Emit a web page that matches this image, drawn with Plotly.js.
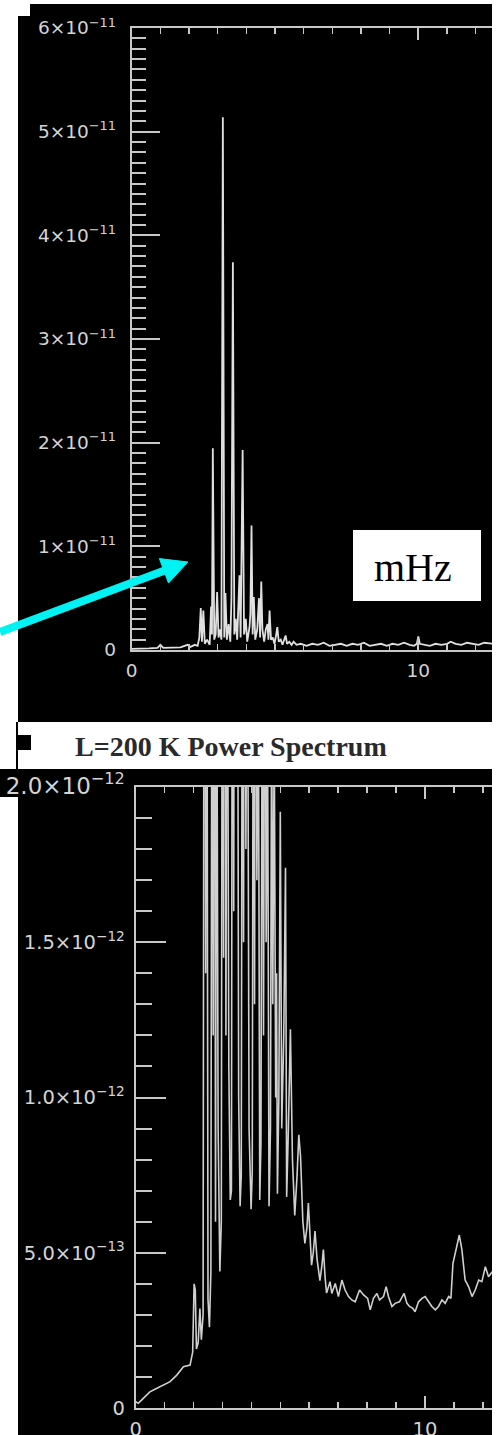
<!DOCTYPE html>
<html>
<head>
<meta charset="utf-8">
<script src="https://cdn.plot.ly/plotly-3.0.1.min.js"></script>
<style>html,body{margin:0;padding:0;background:#fff;}#chart{width:501px;height:1435px;}</style>
</head>
<body>
<div id="chart"></div>
<script>
// ---------- Data ----------
// Upper panel: power spectrum (mHz vs power)
const topFreq = [0.00,0.30,0.60,0.90,1.00,1.10,1.40,1.70,1.95,2.05,2.20,2.30,2.36,2.41,2.45,2.50,2.55,2.63,2.72,2.77,2.80,2.83,2.88,2.93,2.98,3.03,3.08,3.13,3.18,3.23,3.27,3.32,3.38,3.44,3.48,3.53,3.58,3.63,3.68,3.76,3.80,3.87,3.92,3.98,4.03,4.11,4.14,4.18,4.22,4.26,4.31,4.38,4.44,4.48,4.52,4.56,4.62,4.68,4.74,4.77,4.81,4.86,4.92,4.98,5.03,5.08,5.13,5.20,5.26,5.32,5.37,5.42,5.50,5.58,5.65,5.75,5.90,6.10,6.30,6.50,6.70,6.90,7.10,7.30,7.50,7.70,7.90,8.10,8.30,8.50,8.70,8.90,9.10,9.30,9.50,9.70,9.85,9.95,10.00,10.05,10.20,10.40,10.60,10.80,11.00,11.13,11.30,11.50,11.70,11.90,12.10,12.30,12.60];
const topPower = [1.0e-13,1.0e-13,1.5e-13,2.0e-13,5.0e-13,2.0e-13,2.0e-13,2.5e-13,5.0e-13,3.0e-13,5.0e-13,4.0e-13,1.2e-12,4.05e-12,8.0e-13,3.8e-12,6.0e-13,1.0e-12,5.0e-13,4.2e-12,1.5e-12,1.945e-11,1.0e-12,1.5e-12,5.6e-12,1.2e-12,2.0e-12,1.0e-12,5.14e-11,1.2e-12,5.5e-12,1.0e-12,2.5e-12,8.0e-13,5.0e-12,3.74e-11,1.5e-12,3.0e-12,1.0e-12,7.2e-12,1.2e-12,1.93e-11,1.5e-12,3.0e-12,8.0e-13,2.2e-12,3.5e-12,1.2e-11,1.5e-12,5.1e-12,1.0e-12,2.0e-12,5.0e-12,1.2e-12,6.6e-12,2.0e-12,8.0e-13,2.0e-12,2.5e-12,1.0e-12,3.8e-12,1.0e-12,1.2e-12,6.0e-13,1.3e-12,2.2e-12,8.0e-13,1.0e-12,5.0e-13,9.0e-13,1.4e-12,6.0e-13,8.0e-13,5.0e-13,8.0e-13,5.0e-13,6.0e-13,4.0e-13,6.0e-13,5.0e-13,7.0e-13,4.0e-13,5.0e-13,6.0e-13,4.0e-13,6.0e-13,5.0e-13,7.0e-13,4.0e-13,5.0e-13,6.0e-13,4.0e-13,6.0e-13,5.0e-13,7.0e-13,5.0e-13,4.0e-13,6.0e-13,1.3e-12,6.0e-13,5.0e-13,4.0e-13,6.0e-13,5.0e-13,6.0e-13,8.0e-13,6.0e-13,5.0e-13,7.0e-13,6.0e-13,5.0e-13,7.0e-13,6.0e-13];

// Lower panel: "L=200 K Power Spectrum"
const lowFreq = [0.00,0.09,0.21,0.35,0.49,0.70,0.96,1.19,1.42,1.55,1.65,1.88,1.97,2.02,2.06,2.10,2.16,2.22,2.27,2.33,2.38,2.42,2.45,2.50,2.55,2.60,2.64,2.68,2.72,2.76,2.80,2.85,2.91,2.96,3.00,3.04,3.08,3.12,3.16,3.22,3.27,3.31,3.35,3.39,3.43,3.47,3.51,3.56,3.61,3.65,3.69,3.73,3.77,3.81,3.86,3.92,3.99,4.03,4.07,4.11,4.15,4.19,4.24,4.29,4.33,4.38,4.42,4.47,4.51,4.56,4.61,4.66,4.70,4.74,4.79,4.84,4.87,4.90,4.95,5.00,5.05,5.12,5.18,5.22,5.28,5.35,5.42,5.50,5.58,5.64,5.70,5.78,5.85,5.92,5.97,6.03,6.08,6.14,6.20,6.27,6.33,6.37,6.44,6.49,6.55,6.60,6.72,6.78,6.90,7.01,7.13,7.24,7.36,7.47,7.59,7.74,7.88,8.02,8.11,8.22,8.34,8.43,8.57,8.66,8.74,8.86,8.97,9.12,9.28,9.38,9.47,9.58,9.66,9.78,9.90,10.01,10.13,10.24,10.36,10.47,10.59,10.70,10.82,10.90,10.97,11.08,11.19,11.28,11.39,11.51,11.63,11.74,11.86,11.97,12.09,12.20,12.33];
const lowPower = [2.0e-14,1.5e-14,2.6e-14,4.0e-14,5.2e-14,6.2e-14,7.4e-14,8.5e-14,1.06e-13,1.2e-13,1.33e-13,1.38e-13,1.8e-13,4.0e-13,3.8e-13,1.9e-13,2.1e-13,3.2e-13,2.2e-13,3.0e-13,4.0e-12,1.4e-12,3.5e-12,3.5e-13,2.6e-13,4.4e-13,3.0e-12,1.2e-12,3.6e-12,6.0e-13,2.6e-12,9.0e-13,4.4e-13,6.0e-13,3.2e-12,1.45e-12,4.5e-12,1.2e-12,3.0e-12,1.1e-12,6.7e-13,7.0e-13,3.4e-12,1.6e-12,5.0e-12,2.0e-12,3.2e-12,1.0e-12,6.5e-13,7.5e-13,3.0e-12,1.5e-12,4.2e-12,1.8e-12,2.8e-12,9.0e-13,6.4e-13,7.6e-13,2.9e-12,1.3e-12,3.6e-12,1.7e-12,2.4e-12,6.7e-13,8.5e-13,2.6e-12,1.2e-12,3.0e-12,1.5e-12,2.2e-12,6.5e-13,9.0e-13,2.3e-12,1.3e-12,2.2e-12,1.0e-12,1.4e-12,6.9e-13,1.0e-12,1.92e-12,9.0e-13,1.2e-12,1.74e-12,6.8e-13,9.0e-13,1.22e-12,8.0e-13,6.2e-13,7.5e-13,8.8e-13,8.1e-13,6.0e-13,5.3e-13,5.8e-13,6.6e-13,5.5e-13,4.6e-13,5.0e-13,5.7e-13,4.8e-13,4.4e-13,4.1e-13,4.6e-13,5.1e-13,4.2e-13,3.7e-13,4.07e-13,3.69e-13,4.01e-13,3.59e-13,4.12e-13,3.8e-13,3.59e-13,3.48e-13,3.42e-13,3.8e-13,3.64e-13,3.53e-13,3.16e-13,3.53e-13,3.69e-13,3.48e-13,3.59e-13,3.91e-13,3.59e-13,3.27e-13,3.37e-13,3.42e-13,3.69e-13,3.37e-13,3.27e-13,3.21e-13,3.1e-13,3.42e-13,3.53e-13,3.59e-13,3.42e-13,3.27e-13,3.16e-13,3.27e-13,3.48e-13,3.37e-13,3.59e-13,3.53e-13,4.66e-13,5.09e-13,5.57e-13,5.09e-13,4.12e-13,3.91e-13,3.59e-13,3.8e-13,4.12e-13,4.07e-13,4.55e-13,4.23e-13,4.39e-13];

// Tick labels
const topXTickVals = [0, 10];
const topXTickText = ['0', '10'];
const topYTickVals = [0, 1e-11, 2e-11, 3e-11, 4e-11, 5e-11, 6e-11];
const topYTickText = ['0', '1\u00d710<sup>\u221211</sup>', '2\u00d710<sup>\u221211</sup>', '3\u00d710<sup>\u221211</sup>', '4\u00d710<sup>\u221211</sup>', '5\u00d710<sup>\u221211</sup>', '6\u00d710<sup>\u221211</sup>'];
const lowXTickVals = [0, 10];
const lowXTickText = ['0', '10'];
const lowYTickVals = [0, 5e-13, 1e-12, 1.5e-12, 2e-12];
const lowYTickText = ['0', '5.0\u00d710<sup>\u221213</sup>', '1.0\u00d710<sup>\u221212</sup>', '1.5\u00d710<sup>\u221212</sup>', '<span style="font-size:23px">2.0\u00d710<sup>\u221212</sup></span>'];

const panelTitle = 'L=200 K Power Spectrum';
const unitLabel = 'mHz';

// ---------- Layout helpers ----------
const W = 501, H = 1435;
const px = v => v / W;
const py = v => 1 - v / H;
const AX = '#c8c8c8';
const topTickFont = {family: 'DejaVu Sans, sans-serif', size: 18.5, color: '#d4d4d4'};
const lowTickFont = {family: 'DejaVu Sans, sans-serif', size: 19.5, color: '#d4d4d4'};

function rect(x0, y0, x1, y1, color, layer) {
  return {type: 'rect', xref: 'paper', yref: 'paper', x0: px(x0), x1: px(x1), y0: py(y1), y1: py(y0),
          fillcolor: color, line: {width: 0}, layer: layer || 'below'};
}

function xAxis(domain, range, vals, text, anchor, font) {
  return {domain: domain, range: range, anchor: anchor, tickmode: 'array', tickvals: vals, ticktext: text,
          ticks: 'inside', ticklen: 12, tickwidth: 2, tickcolor: AX, showline: true, linecolor: AX, linewidth: 2,
          mirror: 'allticks', showgrid: false, zeroline: false, tickfont: font, ticklabelstandoff: 3,
          minor: {tickmode: 'linear', tick0: 0, dtick: 1, ticks: 'inside', ticklen: 6, tickwidth: 1.5, tickcolor: AX, showgrid: false},
          fixedrange: true};
}
function yAxis(domain, range, vals, text, anchor, majLen, minDt, minLen, standoff, font) {
  return {domain: domain, range: range, anchor: anchor, tickmode: 'array', tickvals: vals, ticktext: text,
          ticks: 'inside', ticklen: majLen, tickwidth: 2, tickcolor: AX, showline: true, linecolor: AX, linewidth: 2,
          mirror: false, showgrid: false, zeroline: false, tickfont: font, ticklabelstandoff: standoff,
          minor: {tickmode: 'linear', tick0: 0, dtick: minDt, ticks: 'inside', ticklen: minLen, tickwidth: 2, tickcolor: AX, showgrid: false},
          fixedrange: true};
}

const traces = [
  {x: topFreq, y: topPower, type: 'scatter', mode: 'lines', xaxis: 'x', yaxis: 'y',
   line: {color: '#e0e0e0', width: 1.8}, hoverinfo: 'skip'},
  {x: lowFreq, y: lowPower, type: 'scatter', mode: 'lines', xaxis: 'x2', yaxis: 'y2',
   line: {color: '#d0d0d0', width: 1.6}, hoverinfo: 'skip'}
];

// arrow geometry (pixels)
const tip = [188, 562];
const headA = [168.5, 583];
const headB = [159.4, 558.6];
const arrowPath = 'M ' + px(tip[0]) + ' ' + py(tip[1]) + ' L ' + px(headA[0]) + ' ' + py(headA[1]) + ' L ' + px(headB[0]) + ' ' + py(headB[1]) + ' Z';

const layout = {
  width: W, height: H, margin: {l: 0, r: 0, t: 0, b: 0, pad: 0},
  paper_bgcolor: '#ffffff', plot_bgcolor: '#000000', showlegend: false,
  xaxis: xAxis([131.7 / W, 492 / W], [0, 12.57], topXTickVals, topXTickText, 'y', topTickFont),
  yaxis: yAxis([1 - 650 / H, 1 - 28 / H], [0, 6e-11], topYTickVals, topYTickText, 'x', 28, 1e-12, 14, 10, topTickFont),
  xaxis2: xAxis([135.7 / W, 492 / W], [0, 12.32], lowXTickVals, lowXTickText, 'y2', lowTickFont),
  yaxis2: yAxis([1 - 1408 / H, 1 - 787 / H], [0, 2e-12], lowYTickVals, lowYTickText, 'x2', 30, 1e-13, 16, 5, lowTickFont),
  shapes: [
    rect(18, 4, 492, 722, '#000000'),
    rect(18, 4, 30, 16, '#ffffff'),
    rect(18, 769, 492, 1435, '#000000'),
    rect(0, 769, 18, 797, '#000000'),
    rect(16, 722, 18, 769, '#000000'),
    rect(16, 735, 31, 750, '#000000'),
    rect(353, 530, 481, 601, '#ffffff', 'above'),
    {type: 'line', xref: 'paper', yref: 'paper', x0: px(0), y0: py(632), x1: px(166), y1: py(570),
     line: {color: '#00f2f2', width: 8}, layer: 'above'},
    {type: 'path', xref: 'paper', yref: 'paper', path: arrowPath, fillcolor: '#00f2f2', line: {color: '#00f2f2', width: 1}, layer: 'above'}
  ],
  annotations: [
    {xref: 'paper', yref: 'paper', x: px(231), y: py(746), text: '<b>' + panelTitle + '</b>', showarrow: false,
     xanchor: 'center', yanchor: 'middle', font: {family: 'Liberation Serif, Times New Roman, serif', size: 28, color: '#2a2a2a'}},
    {xref: 'paper', yref: 'paper', x: px(413), y: py(567), text: unitLabel, showarrow: false,
     xanchor: 'center', yanchor: 'middle', font: {family: 'Liberation Serif, Times New Roman, serif', size: 40, color: '#000000'}}
  ]
};

Plotly.newPlot('chart', traces, layout, {displayModeBar: false, staticPlot: true});
</script>
</body>
</html>
